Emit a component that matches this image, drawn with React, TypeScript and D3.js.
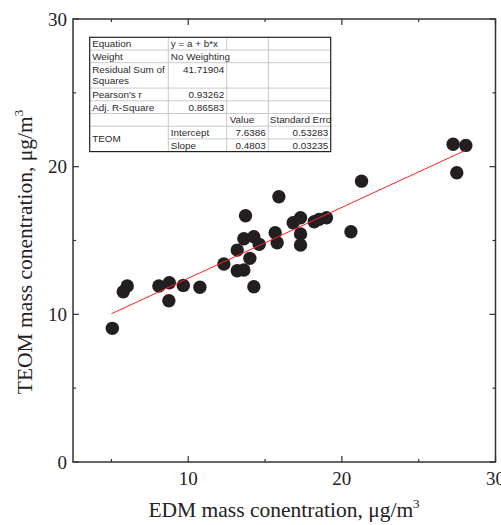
import React from "react";
import * as d3 from "d3";

const edm = [5.06, 5.77, 6.03, 8.09, 8.77, 8.74, 9.68, 10.76, 12.32, 13.19, 13.19, 13.62, 13.73, 13.62, 14.27, 14.62, 14.01, 14.27, 15.9, 15.66, 15.79, 16.83, 17.31, 17.31, 17.31, 18.2, 18.52, 19.0, 20.59, 21.28, 27.24, 28.07, 27.48];
const teom = [9.05, 11.53, 11.92, 11.92, 12.14, 10.92, 11.96, 11.83, 13.41, 14.35, 12.95, 13.0, 16.68, 15.12, 15.25, 14.74, 13.79, 11.87, 17.96, 15.52, 14.85, 16.2, 16.54, 15.44, 14.69, 16.27, 16.43, 16.54, 15.59, 19.02, 21.52, 21.44, 19.59];

const intercept = 7.6386;
const slope = 0.4803;
const fitRange = [5.0, 28.0];

const xMajor = [10, 20, 30];
const xMinor = [5, 15, 25];
const yMajor = [0, 10, 20, 30];
const yMinor = [5, 15, 25];

const tableRows = [
  ["Equation", "y = a + b*x", "", ""],
  ["Weight", "No Weighting", "", ""],
  ["Residual Sum of|Squares", "41.71904", "", ""],
  ["Pearson's r", "0.93262", "", ""],
  ["Adj. R-Square", "0.86583", "", ""],
  ["", "", "Value", "Standard Erro"],
  ["TEOM", "Intercept", "7.6386", "0.53283"],
  ["", "Slope", "0.4803", "0.03235"],
];

export default function App() {
  const W = 501, H = 525;
  const x = d3.scaleLinear().domain([2.5, 30]).range([73, 495.5]);
  const y = d3.scaleLinear().domain([0, 30]).range([462, 19]);
  const axisColor = "#333";
  const serif = "'Liberation Serif', 'Times New Roman', serif";
  const sans = "'Liberation Sans', Arial, sans-serif";

  const line = d3.line<number>().x((d) => x(d)).y((d) => y(intercept + slope * d));

  // table geometry
  const tx = [89.7, 168.3, 226.7, 268.3, 330.7];
  const ty0 = 37.3, rh = 12.7;
  const rowUnits = [1, 1, 2, 1, 1, 1, 1, 1];
  const rowY: number[] = [ty0];
  rowUnits.forEach((u, i) => rowY.push(rowY[i] + u * rh));
  const tFont = 9.9;
  const tColor = "#2a2a2a";
  const grid = "#c4c4c4";

  const cellsText: JSX.Element[] = [];
  tableRows.forEach((r, i) => {
    const top = rowY[i];
    const mid = top + rh / 2 + 3.5;
    if (r[0]) {
      if (r[0].includes("|")) {
        const parts = r[0].split("|");
        parts.forEach((p, k) =>
          cellsText.push(<text key={`c0-${i}-${k}`} x={tx[0] + 2.5} y={top + rh / 2 + 3.5 + k * 11.5} fontSize={tFont} fill={tColor} fontFamily={sans}>{p}</text>)
        );
      } else if (r[0] === "TEOM") {
        cellsText.push(<text key={`c0-${i}`} x={tx[0] + 2.5} y={top + rh + 3.5} fontSize={tFont} fill={tColor} fontFamily={sans}>{r[0]}</text>);
      } else {
        cellsText.push(<text key={`c0-${i}`} x={tx[0] + 2.5} y={mid} fontSize={tFont} fill={tColor} fontFamily={sans}>{r[0]}</text>);
      }
    }
    if (r[1]) {
      const numeric = /^[0-9.]+$/.test(r[1]);
      cellsText.push(<text key={`c1-${i}`} x={numeric ? tx[2] - 2.5 : tx[1] + 2.5} y={mid} textAnchor={numeric ? "end" : "start"} fontSize={tFont} fill={tColor} fontFamily={sans}>{r[1]}</text>);
    }
    if (r[2]) {
      const numeric = /^[0-9.]+$/.test(r[2]);
      cellsText.push(<text key={`c2-${i}`} x={numeric ? tx[3] - 2.5 : tx[2] + 3} y={mid} textAnchor={numeric ? "end" : "start"} fontSize={tFont} fill={tColor} fontFamily={sans}>{r[2]}</text>);
    }
    if (r[3]) {
      const numeric = /^[0-9.]+$/.test(r[3]);
      cellsText.push(<text key={`c3-${i}`} x={numeric ? tx[4] - 2.5 : tx[3] + 1.5} y={mid} textAnchor={numeric ? "end" : "start"} fontSize={tFont} fill={tColor} fontFamily={sans}>{r[3]}</text>);
    }
  });

  const gridLines: JSX.Element[] = [];
  for (let i = 1; i < rowY.length - 1; i++) {
    const startX = i === 7 ? tx[1] : tx[0];
    gridLines.push(<line key={`h${i}`} x1={startX} x2={tx[4]} y1={rowY[i]} y2={rowY[i]} stroke={grid} strokeWidth={0.9} />);
  }
  [1, 2, 3].forEach((c) => {
    if (c === 2) {
      gridLines.push(<line key={`v${c}a`} x1={tx[c]} x2={tx[c]} y1={rowY[0]} y2={rowY[1]} stroke={grid} strokeWidth={0.9} />);
      gridLines.push(<line key={`v${c}b`} x1={tx[c]} x2={tx[c]} y1={rowY[2]} y2={rowY[8]} stroke={grid} strokeWidth={0.9} />);
    } else {
      gridLines.push(<line key={`v${c}`} x1={tx[c]} x2={tx[c]} y1={rowY[0]} y2={rowY[8]} stroke={grid} strokeWidth={0.9} />);
    }
  });

  return (
    <svg width={W} height={H} style={{ position: "absolute", left: 0, top: 0, background: "#fff" }}>
      <rect width={W} height={H} fill="#fff" />
      <rect x={x(2.5)} y={y(30)} width={x(30) - x(2.5)} height={y(0) - y(30)} fill="none" stroke={axisColor} strokeWidth={1.5} />
      {xMajor.map((v) => (
        <g key={`xM${v}`}>
          <line x1={x(v)} x2={x(v)} y1={y(0)} y2={y(0) - 6} stroke={axisColor} strokeWidth={1.2} />
          <line x1={x(v)} x2={x(v)} y1={y(30)} y2={y(30) + 6} stroke={axisColor} strokeWidth={1.2} />
          <text x={x(v)} y={485} textAnchor="middle" fontSize={19} fontFamily={serif} fill="#222">{v}</text>
        </g>
      ))}
      {xMinor.map((v) => (
        <g key={`xm${v}`}>
          <line x1={x(v)} x2={x(v)} y1={y(0)} y2={y(0) - 3} stroke={axisColor} strokeWidth={1.2} />
          <line x1={x(v)} x2={x(v)} y1={y(30)} y2={y(30) + 3} stroke={axisColor} strokeWidth={1.2} />
        </g>
      ))}
      {yMajor.map((v) => (
        <g key={`yM${v}`}>
          <line x1={x(2.5)} x2={x(2.5) + 6} y1={y(v)} y2={y(v)} stroke={axisColor} strokeWidth={1.2} />
          <line x1={x(30)} x2={x(30) - 6} y1={y(v)} y2={y(v)} stroke={axisColor} strokeWidth={1.2} />
          <text x={67} y={y(v) + 6.5} textAnchor="end" fontSize={19} fontFamily={serif} fill="#222">{v}</text>
        </g>
      ))}
      {yMinor.map((v) => (
        <g key={`ym${v}`}>
          <line x1={x(2.5)} x2={x(2.5) + 3} y1={y(v)} y2={y(v)} stroke={axisColor} strokeWidth={1.2} />
          <line x1={x(30)} x2={x(30) - 3} y1={y(v)} y2={y(v)} stroke={axisColor} strokeWidth={1.2} />
        </g>
      ))}
      <text x={284} y={517} textAnchor="middle" fontSize={21.5} fontFamily={serif} fill="#222">
        EDM mass conentration, μg/m<tspan dy={-9} fontSize={13}>3</tspan>
      </text>
      <text transform="translate(32,252) rotate(-90)" textAnchor="middle" fontSize={21.5} fontFamily={serif} fill="#222">
        TEOM mass conentration, μg/m<tspan dy={-9} fontSize={13}>3</tspan>
      </text>
      {edm.map((v, i) => (
        <circle key={`p${i}`} cx={x(v)} cy={y(teom[i])} r={6.7} fill="#231f20" />
      ))}
      <path d={line(fitRange) || ""} stroke="#ff2020" strokeWidth={1} fill="none" />
      <rect x={tx[0]} y={rowY[0]} width={tx[4] - tx[0]} height={rowY[8] - rowY[0]} fill="#fff" />
      {gridLines}
      <rect x={tx[0]} y={rowY[0]} width={tx[4] - tx[0]} height={rowY[8] - rowY[0]} fill="none" stroke="#222" strokeWidth={1.2} />
      {cellsText}
    </svg>
  );
}
